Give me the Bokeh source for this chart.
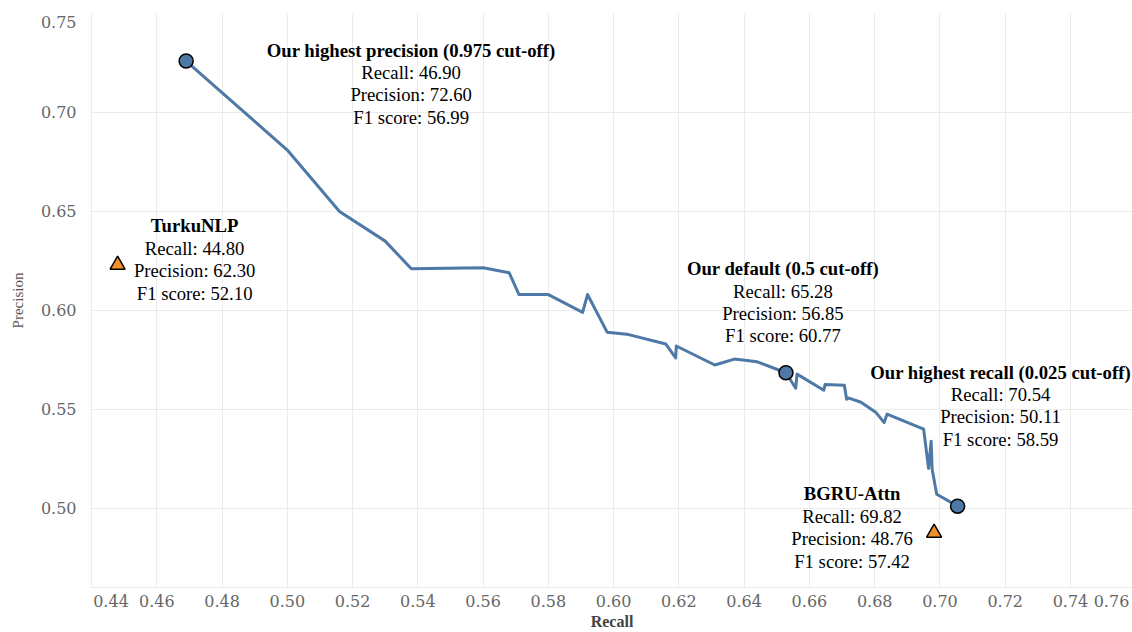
from bokeh.plotting import figure
from bokeh.models import Range1d, FixedTicker, CustomJSTickFormatter
from bokeh.embed import file_html
from bokeh.resources import INLINE
from bokeh.core.properties import value

# ---------------- data ----------------
recall_curve = [0.469, 0.500, 0.516, 0.530, 0.538, 0.560, 0.568, 0.571, 0.580, 0.5905,
                0.592, 0.598, 0.604, 0.616, 0.619, 0.6192, 0.631, 0.637, 0.644, 0.6528,
                0.6558, 0.6562, 0.6644, 0.6648, 0.6707, 0.6714, 0.6721, 0.6758, 0.6803,
                0.6829, 0.6838, 0.6950, 0.6965, 0.6973, 0.6976, 0.6990, 0.7054]
precision_curve = [0.726, 0.681, 0.650, 0.635, 0.621, 0.6215, 0.619, 0.608, 0.608, 0.599,
                   0.608, 0.589, 0.588, 0.583, 0.576, 0.582, 0.5724, 0.5754, 0.574, 0.5685,
                   0.5607, 0.5678, 0.5597, 0.5625, 0.5622, 0.5551, 0.5557, 0.5536, 0.5486,
                   0.5433, 0.5476, 0.540, 0.5202, 0.5339, 0.5197, 0.5071, 0.5011]

our_names = ["Our highest precision (0.975 cut-off)", "Our default (0.5 cut-off)",
             "Our highest recall (0.025 cut-off)"]
our_recall = [0.4690, 0.6528, 0.7054]
our_precision = [0.7260, 0.5685, 0.5011]
our_f1 = [56.99, 60.77, 58.59]

base_names = ["TurkuNLP", "BGRU-Attn"]
base_recall = [0.4480, 0.6982]
base_precision = [0.6230, 0.4876]
base_f1 = [52.10, 57.42]

x_ticks = [0.44, 0.46, 0.48, 0.50, 0.52, 0.54, 0.56, 0.58, 0.60, 0.62, 0.64, 0.66, 0.68,
           0.70, 0.72, 0.74, 0.76]
x_tick_labels = ["0.44", "0.46", "0.48", "0.50", "0.52", "0.54", "0.56", "0.58", "0.60",
                 "0.62", "0.64", "0.66", "0.68", "0.70", "0.72", "0.74", "0.76"]
y_ticks = [0.50, 0.55, 0.60, 0.65, 0.70, 0.75]
y_tick_labels = ["0.50", "0.55", "0.60", "0.65", "0.70", "0.75"]

# ---------------- styles ----------------
BLUE = "#4e79a7"
ORANGE = "#f28e2b"
GRID = "#ebebeb"
TICK_FONT = "DejaVu Serif"
TEXT_FONT = "Liberation Serif"

W, H = 1132, 632
BORDER_L, BORDER_R, BORDER_T, BORDER_B = 91, 0, 13, 45
X_START, X_END = 0.44, 0.759
Y_START, Y_END = 0.46, 0.75

p = figure(width=W, height=H, x_range=Range1d(X_START, X_END),
           y_range=Range1d(Y_START, Y_END), output_backend="svg",
           toolbar_location=None, min_border_left=BORDER_L, min_border_right=BORDER_R,
           min_border_top=BORDER_T, min_border_bottom=BORDER_B)
p.outline_line_color = None

# pixel size of one data unit (for flush-aligning the edge tick labels)
px_x = (W - BORDER_L - BORDER_R) / (X_END - X_START)
px_y = (H - BORDER_T - BORDER_B) / (Y_END - Y_START)

# edge labels are drawn flush inside the plot edges (first / last label)
x_label_pos = [X_START + 19.5 / px_x] + x_ticks[1:-1] + [X_END - 21 / px_x]
y_label_pos = y_ticks[:-1] + [Y_END - 8 / px_y]

fmt_code = """
let best = 0, d = 1e9;
for (let i = 0; i < pos.length; i++) {
  const e = Math.abs(pos[i] - tick);
  if (e < d) { d = e; best = i; }
}
return labels[best];
"""

p.xgrid.ticker = FixedTicker(ticks=x_ticks[1:-1])
p.ygrid.ticker = FixedTicker(ticks=y_ticks)
p.xgrid.grid_line_color = GRID
p.ygrid.grid_line_color = GRID

for ax, pos, labels in ((p.xaxis[0], x_label_pos, x_tick_labels),
                        (p.yaxis[0], y_label_pos, y_tick_labels)):
    ax.ticker = FixedTicker(ticks=pos)
    ax.formatter = CustomJSTickFormatter(args=dict(pos=pos, labels=labels), code=fmt_code)
    ax.major_tick_line_color = None
    ax.minor_tick_line_color = None
    ax.axis_line_color = GRID
    ax.major_label_text_font = TICK_FONT
    ax.major_label_text_font_size = "16px"
    ax.major_label_text_color = "#666666"

p.xaxis.major_label_standoff = 1
p.yaxis.major_label_standoff = 9

p.xaxis.axis_label = "Recall"
p.xaxis.axis_label_text_font = TEXT_FONT
p.xaxis.axis_label_text_font_size = "16px"
p.xaxis.axis_label_text_font_style = "bold"
p.xaxis.axis_label_text_color = "#444444"
p.xaxis.axis_label_standoff = 3

p.yaxis.axis_label = "Precision"
p.yaxis.axis_label_text_font = TEXT_FONT
p.yaxis.axis_label_text_font_size = "15px"
p.yaxis.axis_label_text_font_style = "normal"
p.yaxis.axis_label_text_color = "#555555"
p.yaxis.axis_label_standoff = 12

# ---------------- marks ----------------
p.line(recall_curve, precision_curve, line_color=BLUE, line_width=3, line_join="round")
p.scatter(our_recall, our_precision, size=14, fill_color=BLUE, line_color="black",
          line_width=1.5)
p.scatter(base_recall, base_precision, marker="triangle", size=15, fill_color=ORANGE,
          line_color="black", line_width=1.5)

# ---------------- annotations ----------------
ann_titles = our_names + base_names
ann_r = our_recall + base_recall
ann_p = our_precision + base_precision
ann_f1 = our_f1 + base_f1
# pixel offsets of each block's title baseline from its point
ann_dx = [225, -3, 43, 77, -82]
ann_dy = [-11, -104, -134, -39, -39]
LINE_H = 22.4
FONT_SIZE = "18.7px"

p.text(x=ann_r, y=ann_p, text=ann_titles, x_offset=ann_dx, y_offset=ann_dy,
       text_align="center", text_baseline="alphabetic", text_font=value(TEXT_FONT),
       text_font_size=FONT_SIZE, text_font_style="bold", text_color="black")

bx, by, bt, bdx, bdy = [], [], [], [], []
for i in range(len(ann_titles)):
    lines = [f"Recall: {ann_r[i] * 100:.2f}", f"Precision: {ann_p[i] * 100:.2f}",
             f"F1 score: {ann_f1[i]:.2f}"]
    for k, t in enumerate(lines):
        bx.append(ann_r[i]); by.append(ann_p[i]); bt.append(t)
        bdx.append(ann_dx[i]); bdy.append(ann_dy[i] + LINE_H * (k + 1))

p.text(x=bx, y=by, text=bt, x_offset=bdx, y_offset=bdy, text_align="center",
       text_baseline="alphabetic", text_font=value(TEXT_FONT), text_font_size=FONT_SIZE,
       text_color="black")

open("out.html", "w").write(file_html(p, INLINE))
